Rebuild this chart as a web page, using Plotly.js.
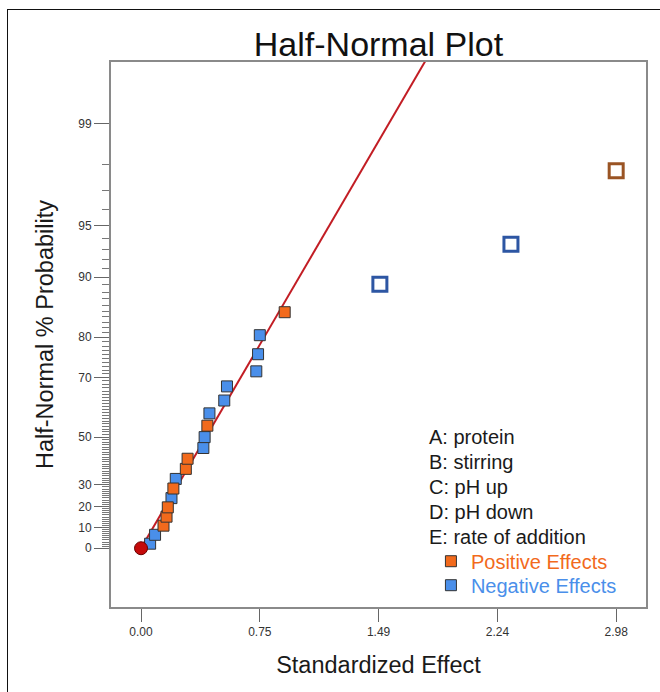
<!DOCTYPE html>
<html><head><meta charset="utf-8">
<script src="https://cdn.plot.ly/plotly-3.0.1.min.js"></script>
<style>
html,body{margin:0;padding:0;background:#fff;overflow:hidden}
#chart{position:absolute;left:0;top:0;width:660px;height:692px}
#frame{position:absolute;left:7px;top:9px;width:720px;height:720px;border:1.5px solid #111;pointer-events:none}
</style></head>
<body><div id="chart"></div><div id="frame"></div>
<script>
// ---------------- data ----------------
const positiveEffect = [0.141, 0.160, 0.168, 0.203, 0.281, 0.292, 0.416, 0.901];
const positiveProb   = [10.9, 15.2, 19.6, 28.3, 37.0, 41.3, 54.3, 84.8];
const negativeEffect = [0.057, 0.088, 0.191, 0.218, 0.391, 0.399, 0.429, 0.522, 0.539, 0.723, 0.734, 0.745];
const negativeProb   = [2.2, 6.5, 23.9, 32.6, 45.7, 50.0, 58.7, 63.0, 67.4, 71.7, 76.1, 80.4];
const selectedNegEffect = [1.498, 2.320];
const selectedNegProb   = [89.1, 93.5];
const selectedPosEffect = [2.980];
const selectedPosProb   = [97.8];
const originEffect = [0];
const originProb   = [0];
const fitSlope = 0.603;          // standardized effect per half-normal quantile
const xTickVals = [0, 0.745, 1.49, 2.235, 2.98];
const xTickText = ['0.00', '0.75', '1.49', '2.24', '2.98'];
const yTickProb = [0, 10, 20, 30, 50, 70, 80, 90, 95, 99];
const yTickText = ['0', '10', '20', '30', '50', '70', '80', '90', '95', '99'];
const factorLabels = ['A: protein', 'B: stirring', 'C: pH up', 'D: pH down', 'E: rate of addition'];
const legendNames = ['Positive Effects', 'Negative Effects'];

// ---------------- half-normal probability scale ----------------
function normInv(p) {
  const a = [-3.969683028665376e+01, 2.209460984245205e+02, -2.759285104469687e+02, 1.383577518672690e+02, -3.066479806614716e+01, 2.506628277459239e+00];
  const b = [-5.447609879822406e+01, 1.615858368580409e+02, -1.556989798598866e+02, 6.680131188771972e+01, -1.328068155288572e+01];
  const c = [-7.784894002430293e-03, -3.223964580411365e-01, -2.400758277161838e+00, -2.549732539343734e+00, 4.374664141464968e+00, 2.938163982698783e+00];
  const d = [7.784695709041462e-03, 3.224671290700398e-01, 2.445134137142996e+00, 3.754408661907416e+00];
  const pl = 0.02425, ph = 1 - pl;
  let q, r;
  if (p < pl) { q = Math.sqrt(-2 * Math.log(p));
    return (((((c[0]*q+c[1])*q+c[2])*q+c[3])*q+c[4])*q+c[5]) / ((((d[0]*q+d[1])*q+d[2])*q+d[3])*q+1); }
  if (p <= ph) { q = p - 0.5; r = q * q;
    return (((((a[0]*r+a[1])*r+a[2])*r+a[3])*r+a[4])*r+a[5])*q / (((((b[0]*r+b[1])*r+b[2])*r+b[3])*r+b[4])*r+1); }
  q = Math.sqrt(-2 * Math.log(1 - p));
  return -(((((c[0]*q+c[1])*q+c[2])*q+c[3])*q+c[4])*q+c[5]) / ((((d[0]*q+d[1])*q+d[2])*q+d[3])*q+1);
}
const hz = p => normInv(0.5 + p / 200);

const minorProb = [];
for (let p = 1; p <= 98; p++) if (yTickProb.indexOf(p) < 0) minorProb.push(p);

const FONT = '"Liberation Sans", Arial, Helvetica, sans-serif';
const ORANGE = '#f26a1c', BLUE = '#4a8fea', NAVY = '#2d56a3', BROWN = '#9a5424';

const zTop = 3.3;
const traces = [
  { x: [0, zTop * fitSlope], y: [0, zTop], mode: 'lines', showlegend: false, hoverinfo: 'skip',
    line: { color: '#c21d24', width: 2 } },
  { x: negativeEffect, y: negativeProb.map(hz), mode: 'markers', legend: 'legend2',
    name: '<span style="color:' + BLUE + '">' + legendNames[1] + '</span>',
    marker: { symbol: 'square', size: 11, color: BLUE, line: { color: '#333', width: 1 } } },
  { x: positiveEffect, y: positiveProb.map(hz), mode: 'markers', legend: 'legend',
    name: '<span style="color:' + ORANGE + '">' + legendNames[0] + '</span>',
    marker: { symbol: 'square', size: 11, color: ORANGE, line: { color: '#333', width: 1 } } },
  { x: selectedNegEffect, y: selectedNegProb.map(hz), mode: 'markers', showlegend: false,
    marker: { symbol: 'square-open', size: 14, color: NAVY, line: { color: NAVY, width: 3 } } },
  { x: selectedPosEffect, y: selectedPosProb.map(hz), mode: 'markers', showlegend: false,
    marker: { symbol: 'square-open', size: 14, color: BROWN, line: { color: BROWN, width: 3 } } },
  { x: originEffect, y: originProb.map(hz), mode: 'markers', showlegend: false,
    marker: { symbol: 'circle', size: 13, color: '#c40a0a', line: { color: '#6a0000', width: 1 } } }
];

const annotations = factorLabels.map((t, i) => ({
  text: t, xref: 'paper', yref: 'paper', x: 0.5907, y: (607 - (437.3 + i * 24.85)) / 545,
  xanchor: 'left', yanchor: 'middle', showarrow: false,
  font: { family: FONT, size: 20, color: '#1a1a1a' }
}));

const legendBase = { x: 0.598, xanchor: 'left', yanchor: 'top', bgcolor: 'rgba(0,0,0,0)',
  font: { family: FONT, size: 20 }, itemclick: false, itemdoubleclick: false };

const layout = {
  width: 660, height: 692,
  margin: { l: 111, r: 14, t: 62, b: 85 },
  paper_bgcolor: '#fff', plot_bgcolor: '#fff',
  font: { family: FONT, color: '#333' },
  title: { text: 'Half-Normal Plot', font: { family: FONT, size: 34, color: '#111' },
    x: 0.5, xref: 'paper', y: 1 - 44 / 692, yref: 'container', yanchor: 'middle' },
  xaxis: {
    range: [-0.1883, 3.167], tickmode: 'array', tickvals: xTickVals, ticktext: xTickText,
    ticks: 'outside', ticklen: 13, tickwidth: 1, tickcolor: '#666',
    showline: true, linecolor: '#8a8a8a', linewidth: 2, mirror: true,
    showgrid: false, zeroline: false,
    tickfont: { family: FONT, size: 12, color: '#333' },
    title: { text: 'Standardized Effect', standoff: 18, font: { family: FONT, size: 23.5, color: '#1a1a1a' } }
  },
  yaxis: {
    range: [-0.3566, 2.951], tickmode: 'array', tickvals: yTickProb.map(hz), ticktext: yTickText,
    ticks: 'outside', ticklen: 15, tickwidth: 1, tickcolor: '#666',
    minor: { tickmode: 'array', tickvals: minorProb.map(hz), ticks: 'outside', ticklen: 7, tickwidth: 1, tickcolor: '#777', showgrid: false },
    showline: true, linecolor: '#8a8a8a', linewidth: 2, mirror: true,
    showgrid: false, zeroline: false,
    tickfont: { family: FONT, size: 12, color: '#333' },
    title: { text: 'Half-Normal % Probability', standoff: 18, font: { family: FONT, size: 23.5, color: '#1a1a1a' } }
  },
  showlegend: true,
  legend: Object.assign({}, legendBase, { y: 0.1198 }),
  legend2: Object.assign({}, legendBase, { y: 0.0758 }),
  annotations: annotations
};

Plotly.newPlot('chart', traces, layout, { displayModeBar: false, staticPlot: true });
</script>
</body></html>
